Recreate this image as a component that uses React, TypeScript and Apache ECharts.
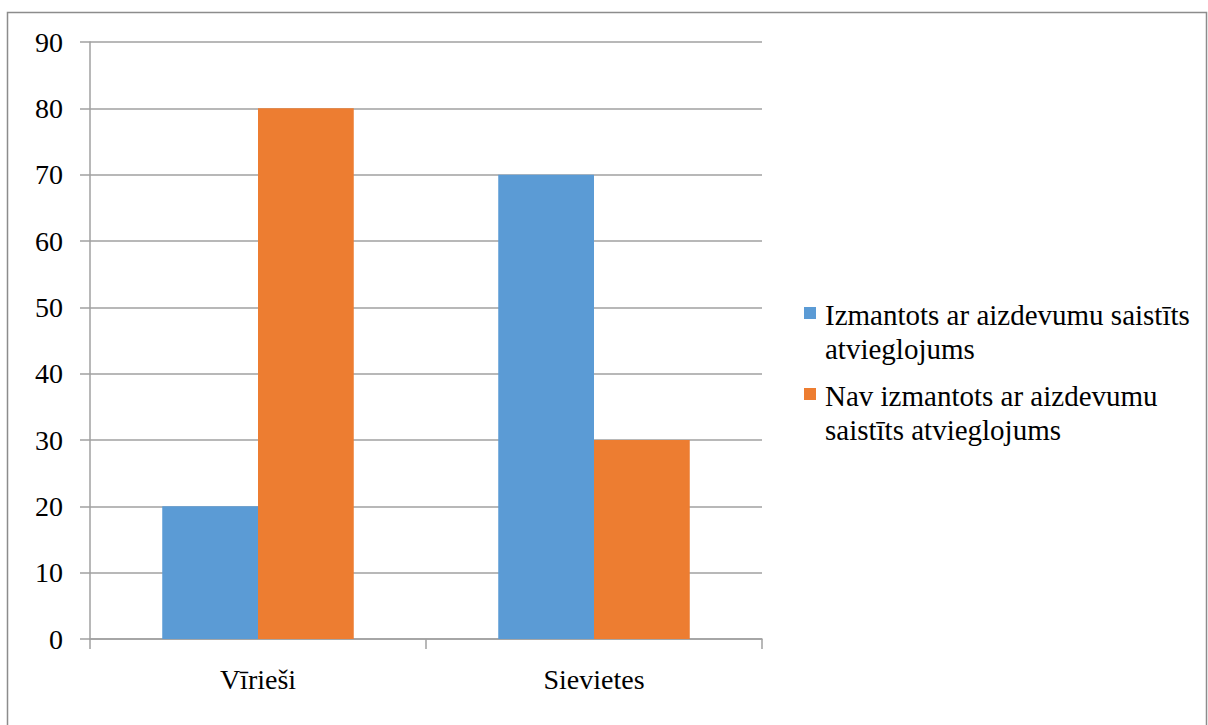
import React, { useEffect, useRef } from "react";
import * as echarts from "echarts";

const categories = ["Vīrieši", "Sievietes"];
const seriesNames = [
  "Izmantots ar aizdevumu saistīts atvieglojums",
  "Nav izmantots ar aizdevumu saistīts atvieglojums",
];
const legendLines = [
  "Izmantots ar aizdevumu saistīts\natvieglojums",
  "Nav izmantots ar aizdevumu\nsaistīts atvieglojums",
];
const usedValues = [20, 70];
const notUsedValues = [80, 30];
const colors = ["#5B9BD5", "#ED7D31"];

const FONT = "Liberation Serif";
const GRID_COLOR = "#a0a0a0";

export default function App() {
  const ref = useRef<HTMLDivElement>(null);
  useEffect(() => {
    if (!ref.current) return;
    const chart = echarts.init(ref.current, null, { renderer: "svg" });
    const legendGraphics: any[] = [];
    legendLines.forEach((txt, i) => {
      const baseY = 298 + i * 81;
      legendGraphics.push({
        type: "rect",
        shape: { x: 804, y: baseY + 9, width: 12, height: 12 },
        style: { fill: colors[i] },
      });
      legendGraphics.push({
        type: "text",
        x: 825,
        y: baseY,
        style: {
          text: txt,
          fontFamily: FONT,
          fontSize: 29,
          fill: "#000",
          lineHeight: 34,
          verticalAlign: "top",
          align: "left",
        },
      });
    });
    chart.setOption({
      animation: false,
      backgroundColor: "#fff",
      textStyle: { fontFamily: FONT },
      grid: { left: 90, right: 446, top: 42, bottom: 86, containLabel: false },
      xAxis: {
        type: "category",
        data: categories,
        boundaryGap: true,
        axisLine: { show: true, lineStyle: { color: GRID_COLOR, width: 1.5 } },
        axisTick: { show: true, length: 10, lineStyle: { color: GRID_COLOR, width: 1.5 } },
        axisLabel: { margin: 26, fontFamily: FONT, fontSize: 28, color: "#000" },
        splitLine: { show: false },
      },
      yAxis: {
        type: "value",
        min: 0,
        max: 90,
        interval: 10,
        axisLine: { show: true, lineStyle: { color: GRID_COLOR, width: 1.5 } },
        axisTick: { show: true, length: 10, lineStyle: { color: GRID_COLOR, width: 1.5 } },
        axisLabel: { margin: 27, fontFamily: FONT, fontSize: 28, color: "#000" },
        splitLine: { show: true, lineStyle: { color: GRID_COLOR, width: 1.5 } },
      },
      series: [
        {
          name: seriesNames[0],
          type: "bar",
          data: usedValues,
          itemStyle: { color: colors[0] },
          barGap: "0%",
          barCategoryGap: "43%",
        },
        {
          name: seriesNames[1],
          type: "bar",
          data: notUsedValues,
          itemStyle: { color: colors[1] },
          barGap: "0%",
          barCategoryGap: "43%",
        },
      ],
      graphic: [
        {
          type: "rect",
          shape: { x: 7.5, y: 12.5, width: 1199, height: 800 },
          style: { fill: "none", stroke: "#8c8c8c", lineWidth: 1.5 },
          silent: true,
        },
        ...legendGraphics,
      ],
    });
    return () => chart.dispose();
  }, []);
  return (
    <div
      ref={ref}
      style={{ position: "absolute", left: 0, top: 0, width: 1208, height: 725 }}
    />
  );
}
